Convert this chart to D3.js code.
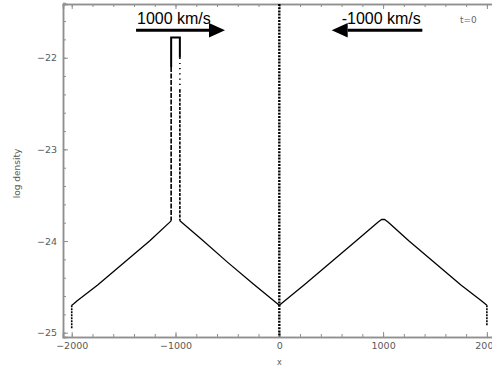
<!DOCTYPE html>
<html><head><meta charset="utf-8">
<script src="https://cdn.jsdelivr.net/npm/d3@7/dist/d3.min.js"></script>
<style>html,body{margin:0;padding:0;background:#fff;overflow:hidden}</style>
</head><body>
<svg id="c" width="492" height="369"></svg>
<script>
// ---- data ----
const xMajorTicks = [-2000, -1000, 0, 1000, 2000];
const yMajorTicks = [-25, -24, -23, -22];
const xMinorTicks = [-2000,-1800,-1600,-1400,-1200,-1000,-800,-600,-400,-200,0,200,400,600,800,1000,1200,1400,1600,1800,2000];
const yMinorTicks = [-25,-24.8,-24.6,-24.4,-24.2,-24,-23.8,-23.6,-23.4,-23.2,-23,-22.8,-22.6,-22.4,-22.2,-22,-21.8,-21.6,-21.4];

// left branch of the left cloud
const leftBranchX = [-2000, -1980, -1950, -1750, -1500, -1250, -1042];
const leftBranchY = [-24.70, -24.685, -24.655, -24.48, -24.24, -24.00, -23.78];
// from the right shoulder of the left cloud through the right cloud
const mainX = [-958, -750, -500, -250, 0, 250, 500, 750, 950, 985, 1015, 1050, 1250, 1500, 1750, 1950, 2000];
const mainY = [-23.78, -23.98, -24.23, -24.47, -24.70, -24.47, -24.23, -23.99, -23.795, -23.765, -23.765, -23.795, -24.00, -24.24, -24.48, -24.655, -24.70];
// dense core of the left cloud
const spikeEdgesX = [-1042, -958];
const spikeTopY = -21.78;
const spikeBaseY = -23.78;
// boundary particles at the domain edges
const edgeX = [-2000, 2000];
const edgeTopY = [-24.70, -24.70];
const edgeBottomY = [-24.96, -24.93];
// annotations
const annoLabels = ["1000 km/s", "-1000 km/s"];
const annoLabelX = [-1371, 601];
const annoArrowFrom = [-1380, 1378];
const annoArrowTo = [-523, 505];
const annoArrowY = -21.70;
const annoLabelY = -21.627;
const timeLabel = "t=0";

// ---- layout ----
const svg = d3.select("#c");
const L = 63, R = 495.6, T = 4, B = 337;
const x = d3.scaleLinear().domain([-2084, 2084]).range([L, R]);
const y = d3.scaleLinear().domain([-25.047, -21.414]).range([B, T]);
const axisCol = "#8f8f8f", textCol = "#5a5a5a";
const fmt = d3.format("d");

function styleAxis(g){
  g.selectAll(".domain").attr("stroke", axisCol).attr("stroke-width", 1.5);
  g.selectAll(".tick line").attr("stroke", axisCol);
  g.selectAll("text").attr("fill", textCol).attr("font-family", "DejaVu Sans, sans-serif").attr("font-size", "9.5px");
}
// minor ticks
svg.append("g").attr("transform",`translate(0,${B})`).call(d3.axisBottom(x).tickValues(xMinorTicks).tickSize(-3).tickFormat("")).call(styleAxis);
svg.append("g").attr("transform",`translate(0,${T})`).call(d3.axisTop(x).tickValues(xMinorTicks).tickSize(-3).tickFormat("")).call(styleAxis);
svg.append("g").attr("transform",`translate(${L},0)`).call(d3.axisLeft(y).tickValues(yMinorTicks).tickSize(-3).tickFormat("")).call(styleAxis);
// major ticks
svg.append("g").attr("transform",`translate(0,${B})`).call(d3.axisBottom(x).tickValues(xMajorTicks).tickSize(-5).tickPadding(5).tickFormat(d => fmt(d))).call(styleAxis);
svg.append("g").attr("transform",`translate(0,${T})`).call(d3.axisTop(x).tickValues(xMajorTicks).tickSize(-5).tickFormat("")).call(styleAxis);
svg.append("g").attr("transform",`translate(${L},0)`).call(d3.axisLeft(y).tickValues(yMajorTicks).tickSize(-5).tickPadding(6).tickFormat(d => fmt(d))).call(styleAxis);

// axis titles
svg.append("text").attr("x", x(0)).attr("y", 365).attr("text-anchor","middle")
  .attr("font-family","DejaVu Sans, sans-serif").attr("font-size","8px").attr("fill",textCol).text("x");
svg.append("text").attr("transform",`translate(20,${(T+B)/2+3}) rotate(-90)`).attr("text-anchor","middle")
  .attr("font-family","DejaVu Sans, sans-serif").attr("font-size","9px").attr("fill",textCol).text("log density");
svg.append("text").attr("x", 460).attr("y", 23)
  .attr("font-family","DejaVu Sans, sans-serif").attr("font-size","9px").attr("fill","#666").text(timeLabel);

// center dotted line
svg.append("line").attr("x1", x(0)).attr("x2", x(0)).attr("y1", T).attr("y2", B)
  .attr("stroke","#000").attr("stroke-width",2.4).attr("stroke-dasharray","2,1.2");

const line = d3.line().x(d => x(d[0])).y(d => y(d[1]));
svg.append("path").datum(leftBranchX.map((v,i)=>[v,leftBranchY[i]])).attr("d", line)
  .attr("fill","none").attr("stroke","#000").attr("stroke-width",1.3).attr("stroke-linejoin","round");
svg.append("path").datum(mainX.map((v,i)=>[v,mainY[i]])).attr("d", line)
  .attr("fill","none").attr("stroke","#000").attr("stroke-width",1.3).attr("stroke-linejoin","round");

// spike (dense core)
const solidLeft = -22.1, solidRight = -22.0;
svg.append("path").datum([[spikeEdgesX[0], solidLeft],[spikeEdgesX[0], spikeTopY],[spikeEdgesX[1], spikeTopY],[spikeEdgesX[1], solidRight]])
  .attr("d", line).attr("fill","none").attr("stroke","#000").attr("stroke-width",2);
svg.append("line").attr("x1",x(spikeEdgesX[0])).attr("x2",x(spikeEdgesX[0])).attr("y1",y(solidLeft)).attr("y2",y(spikeBaseY))
  .attr("stroke","#000").attr("stroke-width",1.6).attr("stroke-dasharray","5,1.5");
svg.append("line").attr("x1",x(spikeEdgesX[1])).attr("x2",x(spikeEdgesX[1])).attr("y1",y(solidRight)).attr("y2",y(-22.35))
  .attr("stroke","#000").attr("stroke-width",1.6).attr("stroke-dasharray","1.2,4");
svg.append("line").attr("x1",x(spikeEdgesX[1])).attr("x2",x(spikeEdgesX[1])).attr("y1",y(-22.35)).attr("y2",y(spikeBaseY))
  .attr("stroke","#000").attr("stroke-width",1.6).attr("stroke-dasharray","3,1.3");

// edge drops
edgeX.forEach((v,i)=>{
  svg.append("line").attr("x1",x(v)).attr("x2",x(v)).attr("y1",y(edgeTopY[i])).attr("y2",y(edgeBottomY[i]))
    .attr("stroke","#000").attr("stroke-width",1.6).attr("stroke-dasharray","2,1");
});

// annotations
annoLabels.forEach((t,i)=>{
  svg.append("text").attr("x", x(annoLabelX[i])).attr("y", y(annoLabelY))
    .attr("font-family","Liberation Sans, Arial, sans-serif").attr("font-size","16px").attr("fill","#000").text(t);
  const x0 = x(annoArrowFrom[i]), x1 = x(annoArrowTo[i]), yy = y(annoArrowY);
  const dir = Math.sign(x1 - x0), hl = 16, hw = 7.3;
  svg.append("line").attr("x1",x0).attr("x2",x1 - dir*hl).attr("y1",yy).attr("y2",yy)
    .attr("stroke","#000").attr("stroke-width",3);
  svg.append("path").attr("d",`M${x1},${yy} L${x1-dir*hl},${yy-hw} L${x1-dir*hl},${yy+hw} Z`).attr("fill","#000");
});
</script>
</body></html>
